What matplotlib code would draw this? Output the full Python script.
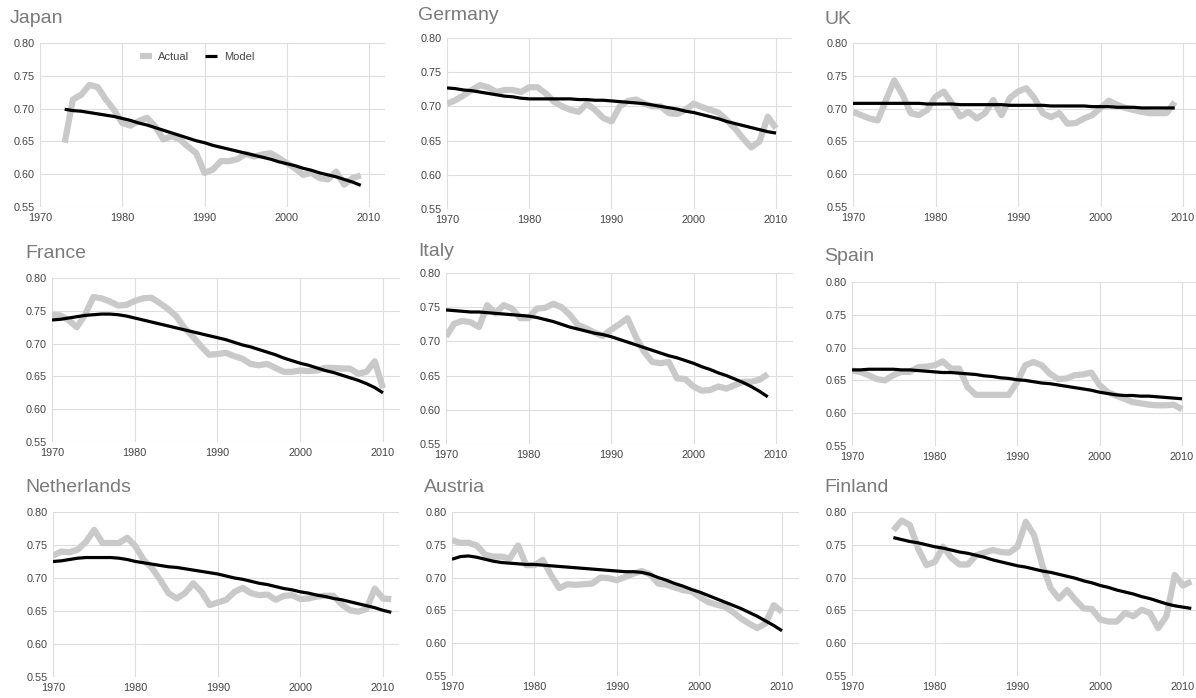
import matplotlib
matplotlib.use("Agg")
import matplotlib.pyplot as plt

plt.rcParams['font.family'] = ['Liberation Sans', 'DejaVu Sans']

# ---- data: share values ----
japan_years = list(range(1973, 2010))
japan_actual = [0.648, 0.714, 0.721, 0.736, 0.733, 0.714, 0.698, 0.678, 0.674, 0.681,
                0.686, 0.673, 0.653, 0.658, 0.653, 0.642, 0.632, 0.602, 0.607, 0.620,
                0.620, 0.623, 0.631, 0.627, 0.630, 0.632, 0.625, 0.617, 0.609, 0.599,
                0.602, 0.594, 0.592, 0.604, 0.584, 0.594, 0.598]
japan_model = [0.699, 0.697, 0.696, 0.694, 0.692, 0.690, 0.688, 0.685, 0.682, 0.678,
               0.675, 0.671, 0.667, 0.663, 0.659, 0.655, 0.651, 0.648, 0.644, 0.641,
               0.638, 0.635, 0.632, 0.629, 0.626, 0.623, 0.619, 0.616, 0.613, 0.609,
               0.606, 0.602, 0.599, 0.596, 0.592, 0.588, 0.583]

germany_years = list(range(1970, 2011))
germany_actual = [0.704, 0.709, 0.716, 0.724, 0.731, 0.728, 0.721, 0.724, 0.724, 0.721,
                  0.728, 0.728, 0.719, 0.707, 0.700, 0.695, 0.692, 0.704, 0.695, 0.683,
                  0.678, 0.700, 0.708, 0.710, 0.704, 0.700, 0.700, 0.690, 0.689, 0.695,
                  0.704, 0.699, 0.695, 0.691, 0.680, 0.668, 0.653, 0.640, 0.649, 0.685, 0.668]
germany_model = [0.727, 0.726, 0.724, 0.723, 0.721, 0.719, 0.717, 0.715, 0.714, 0.712,
                 0.711, 0.711, 0.711, 0.711, 0.711, 0.711, 0.710, 0.710, 0.709, 0.709,
                 0.708, 0.707, 0.706, 0.705, 0.704, 0.702, 0.700, 0.698, 0.696, 0.693,
                 0.691, 0.688, 0.685, 0.682, 0.678, 0.675, 0.672, 0.669, 0.666, 0.663, 0.661]

uk_years = list(range(1970, 2010))
uk_actual = [0.695, 0.690, 0.685, 0.682, 0.713, 0.743, 0.721, 0.693, 0.690, 0.698,
             0.718, 0.726, 0.708, 0.688, 0.695, 0.685, 0.693, 0.713, 0.690, 0.716,
             0.726, 0.731, 0.716, 0.693, 0.687, 0.693, 0.677, 0.678, 0.685, 0.690,
             0.701, 0.712, 0.706, 0.701, 0.698, 0.695, 0.693, 0.693, 0.693, 0.710]
uk_model = [0.708, 0.708, 0.708, 0.708, 0.708, 0.708, 0.708, 0.708, 0.708, 0.707,
            0.707, 0.707, 0.707, 0.706, 0.706, 0.706, 0.706, 0.706, 0.706, 0.705,
            0.705, 0.705, 0.705, 0.705, 0.704, 0.704, 0.704, 0.704, 0.704, 0.703,
            0.703, 0.703, 0.702, 0.702, 0.702, 0.701, 0.701, 0.701, 0.701, 0.701]

france_years = list(range(1970, 2011))
france_actual = [0.744, 0.743, 0.736, 0.725, 0.744, 0.771, 0.769, 0.764, 0.758, 0.759,
                 0.765, 0.769, 0.770, 0.762, 0.753, 0.742, 0.724, 0.711, 0.696, 0.683,
                 0.684, 0.686, 0.681, 0.677, 0.669, 0.667, 0.669, 0.663, 0.657, 0.657,
                 0.659, 0.658, 0.659, 0.663, 0.663, 0.662, 0.662, 0.654, 0.657, 0.673, 0.632]
france_model = [0.736, 0.737, 0.739, 0.741, 0.743, 0.744, 0.745, 0.745, 0.744, 0.742,
                0.739, 0.736, 0.733, 0.730, 0.727, 0.724, 0.721, 0.718, 0.715, 0.712,
                0.709, 0.706, 0.702, 0.698, 0.695, 0.691, 0.687, 0.683, 0.678, 0.674,
                0.670, 0.667, 0.663, 0.659, 0.656, 0.652, 0.648, 0.644, 0.639, 0.633, 0.625]

italy_years = list(range(1970, 2010))
italy_actual = [0.707, 0.726, 0.730, 0.728, 0.721, 0.753, 0.741, 0.753, 0.748, 0.734,
                0.734, 0.748, 0.749, 0.755, 0.750, 0.739, 0.724, 0.719, 0.713, 0.708,
                0.717, 0.725, 0.734, 0.707, 0.685, 0.670, 0.668, 0.670, 0.646, 0.645,
                0.634, 0.628, 0.629, 0.634, 0.631, 0.636, 0.641, 0.641, 0.644, 0.652]
italy_model = [0.746, 0.745, 0.744, 0.743, 0.743, 0.742, 0.741, 0.740, 0.739, 0.738,
               0.737, 0.735, 0.732, 0.729, 0.725, 0.721, 0.718, 0.715, 0.712, 0.710,
               0.707, 0.703, 0.699, 0.695, 0.691, 0.687, 0.683, 0.679, 0.676, 0.672,
               0.668, 0.663, 0.659, 0.654, 0.650, 0.645, 0.640, 0.634, 0.627, 0.619]

spain_years = list(range(1970, 2011))
spain_actual = [0.665, 0.663, 0.658, 0.652, 0.650, 0.658, 0.663, 0.663, 0.670, 0.671,
                0.673, 0.679, 0.668, 0.668, 0.640, 0.628, 0.628, 0.628, 0.628, 0.628,
                0.647, 0.673, 0.678, 0.673, 0.660, 0.652, 0.653, 0.658, 0.659, 0.662,
                0.643, 0.632, 0.627, 0.622, 0.617, 0.615, 0.613, 0.612, 0.612, 0.613, 0.606]
spain_model = [0.666, 0.666, 0.667, 0.667, 0.667, 0.667, 0.666, 0.666, 0.665, 0.664,
               0.663, 0.662, 0.662, 0.661, 0.660, 0.659, 0.657, 0.656, 0.654, 0.653,
               0.651, 0.650, 0.648, 0.646, 0.645, 0.643, 0.641, 0.639, 0.637, 0.635,
               0.632, 0.630, 0.628, 0.627, 0.627, 0.626, 0.626, 0.625, 0.624, 0.623, 0.622]

netherlands_years = list(range(1970, 2012))
netherlands_actual = [0.734, 0.740, 0.739, 0.743, 0.755, 0.773, 0.753, 0.753, 0.753, 0.761,
                      0.748, 0.727, 0.715, 0.697, 0.677, 0.669, 0.677, 0.692, 0.679, 0.659,
                      0.663, 0.667, 0.679, 0.685, 0.677, 0.674, 0.675, 0.667, 0.673, 0.674,
                      0.668, 0.669, 0.672, 0.673, 0.673, 0.660, 0.651, 0.649, 0.653, 0.684,
                      0.669, 0.668]
netherlands_model = [0.725, 0.726, 0.728, 0.730, 0.731, 0.731, 0.731, 0.731, 0.730, 0.728,
                     0.725, 0.723, 0.721, 0.719, 0.717, 0.716, 0.714, 0.712, 0.710, 0.708,
                     0.706, 0.703, 0.700, 0.698, 0.695, 0.692, 0.690, 0.687, 0.684, 0.682,
                     0.679, 0.677, 0.674, 0.672, 0.669, 0.667, 0.664, 0.661, 0.658, 0.655,
                     0.651, 0.648]

austria_years = list(range(1970, 2011))
austria_actual = [0.757, 0.753, 0.753, 0.749, 0.735, 0.732, 0.732, 0.729, 0.749, 0.719,
                  0.719, 0.727, 0.704, 0.684, 0.690, 0.689, 0.690, 0.691, 0.700, 0.699,
                  0.696, 0.701, 0.706, 0.710, 0.705, 0.691, 0.689, 0.685, 0.681, 0.679,
                  0.671, 0.663, 0.659, 0.656, 0.648, 0.638, 0.630, 0.623, 0.630, 0.658, 0.648]
austria_model = [0.728, 0.732, 0.733, 0.731, 0.728, 0.725, 0.723, 0.722, 0.721, 0.720,
                 0.720, 0.719, 0.718, 0.717, 0.716, 0.715, 0.714, 0.713, 0.712, 0.711,
                 0.710, 0.709, 0.709, 0.708, 0.705, 0.700, 0.696, 0.691, 0.687, 0.682,
                 0.678, 0.673, 0.668, 0.663, 0.658, 0.653, 0.647, 0.641, 0.634, 0.627, 0.619]

finland_years = list(range(1975, 2012))
finland_actual = [0.772, 0.787, 0.780, 0.744, 0.719,
                  0.724, 0.747, 0.730, 0.720, 0.720, 0.734, 0.738, 0.742, 0.739, 0.738,
                  0.747, 0.785, 0.765, 0.719, 0.684, 0.668, 0.681, 0.666, 0.653, 0.652,
                  0.636, 0.633, 0.633, 0.646, 0.641, 0.651, 0.646, 0.623, 0.641, 0.704,
                  0.688, 0.694]
finland_model = [0.761, 0.758, 0.755, 0.753, 0.750,
                 0.747, 0.745, 0.742, 0.739, 0.737, 0.734, 0.731, 0.727, 0.724, 0.721,
                 0.718, 0.716, 0.713, 0.710, 0.708, 0.705, 0.702, 0.699, 0.695, 0.692,
                 0.688, 0.685, 0.681, 0.678, 0.675, 0.671, 0.668, 0.664, 0.660, 0.657,
                 0.655, 0.653]

x_ticks = [1970, 1980, 1990, 2000, 2010]
y_ticks = [0.55, 0.60, 0.65, 0.70, 0.75, 0.80]

# panel layout in pixels: name, data, x of 1970, x of 2010, y of 0.80, y of 0.55, title x, title baseline
W, H = 1196, 698
panels = [
    ("Japan", japan_years, japan_actual, japan_model, 40, 369, 43, 207, 10, 23),
    ("Germany", germany_years, germany_actual, germany_model, 447, 776, 38, 209, 418, 20),
    ("UK", uk_years, uk_actual, uk_model, 853, 1183, 43, 207, 824, 24),
    ("France", france_years, france_actual, france_model, 52, 383, 278, 442, 25, 258),
    ("Italy", italy_years, italy_actual, italy_model, 446, 776, 273, 444, 418, 256),
    ("Spain", spain_years, spain_actual, spain_model, 852, 1182, 282, 446, 824, 261),
    ("Netherlands", netherlands_years, netherlands_actual, netherlands_model, 53, 383, 512, 677, 25, 492),
    ("Austria", austria_years, austria_actual, austria_model, 452, 782, 512, 676, 424, 492),
    ("Finland", finland_years, finland_actual, finland_model, 852, 1183, 512, 676, 824, 492),
]

fig = plt.figure(figsize=(W / 100, H / 100), dpi=100)
fig.patch.set_facecolor("white")

for name, years, actual, model, x0, x1, y80, y55, tx, ty in panels:
    px_per_year = (x1 - x0) / 40
    right = x0 + 42 * px_per_year
    ax = fig.add_axes([x0 / W, 1 - y55 / H, (right - x0) / W, (y55 - y80) / H])
    ax.plot(years, actual, color="#c9c9c9", lw=4.5, solid_joinstyle="round",
            solid_capstyle="butt", label="Actual", zorder=2)
    ax.plot(years, model, color="black", lw=2.3, solid_capstyle="butt",
            label="Model", zorder=3)
    ax.set_xlim(1970, 2012)
    ax.set_ylim(0.55, 0.80)
    ax.set_xticks(x_ticks)
    ax.set_yticks(y_ticks)
    ax.set_yticklabels([f"{v:.2f}" for v in y_ticks])
    ax.grid(True, color="#dedede", lw=0.8)
    ax.set_axisbelow(True)
    for s in ax.spines.values():
        s.set_visible(False)
    ax.tick_params(length=0, labelsize=7.8, colors="#444444", pad=4)
    fig.text(tx / W, 1 - ty / H, name, fontsize=14, color="#7a7a7a", va="baseline", ha="left")
    if name == "Japan":
        ax.legend(loc="center", bbox_to_anchor=(197 / W, 1 - 57 / H),
                  bbox_transform=fig.transFigure, ncol=2, frameon=False,
                  fontsize=8, handlelength=1.1, columnspacing=1.4,
                  handletextpad=0.6, labelcolor="#444444")

fig.savefig("out.png", dpi=100)
